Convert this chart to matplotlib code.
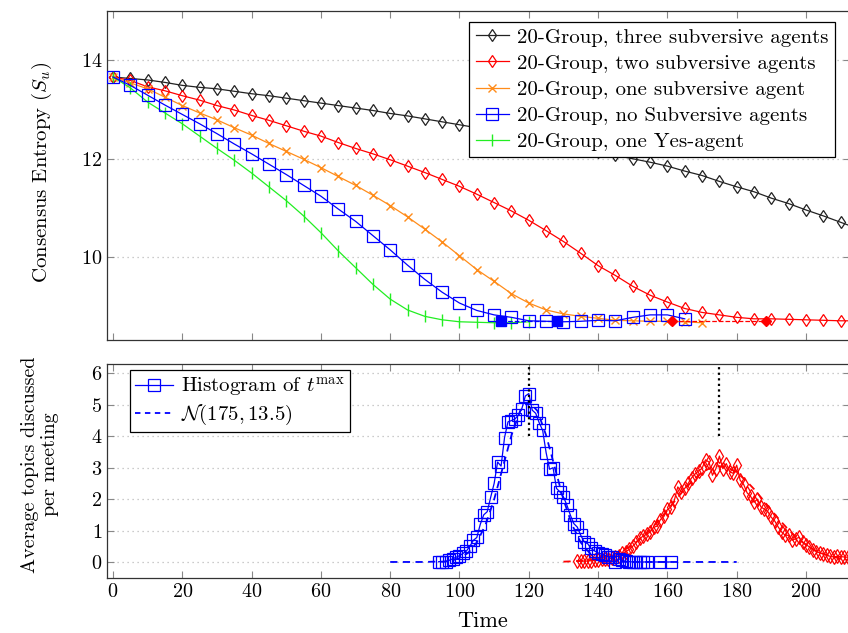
import matplotlib
matplotlib.use("Agg")
import matplotlib.pyplot as plt

plt.rcParams['font.family'] = 'serif'
plt.rcParams['font.serif'] = ['cmr10']
plt.rcParams['mathtext.fontset'] = 'cm'
plt.rcParams['axes.formatter.use_mathtext'] = True
plt.rcParams['font.size'] = 14

# ---- top panel: consensus entropy, sampled every 5 time units
t_black = list(range(0, 220, 5))
s_black = [13.66, 13.63, 13.60, 13.55, 13.49, 13.45, 13.42, 13.37, 13.32, 13.28,
           13.23, 13.18, 13.13, 13.08, 13.03, 12.98, 12.92, 12.87, 12.81, 12.75,
           12.69, 12.63, 12.56, 12.49, 12.42, 12.35, 12.28, 12.21, 12.14, 12.07,
           12.00, 11.93, 11.85, 11.75, 11.66, 11.54, 11.43, 11.33, 11.20, 11.09,
           10.96, 10.84, 10.71, 10.58]
t_red = list(range(0, 220, 5))
s_red = [13.66, 13.59, 13.46, 13.38, 13.28, 13.19, 13.08, 12.99, 12.88, 12.78,
         12.67, 12.56, 12.46, 12.33, 12.21, 12.10, 11.98, 11.85, 11.72, 11.58,
         11.44, 11.28, 11.11, 10.94, 10.75, 10.54, 10.32, 10.08, 9.83, 9.63,
         9.41, 9.23, 9.09, 8.96, 8.88, 8.83, 8.78, 8.75, 8.75, 8.74,
         8.73, 8.72, 8.71, 8.71]
t_orange = list(range(0, 175, 5))
s_orange = [13.66, 13.54, 13.42, 13.25, 13.08, 12.93, 12.79, 12.63, 12.48, 12.31,
            12.15, 11.99, 11.82, 11.64, 11.46, 11.26, 11.05, 10.82, 10.57, 10.31,
            10.03, 9.75, 9.51, 9.26, 9.07, 8.93, 8.85, 8.80, 8.76, 8.72,
            8.71, 8.70, 8.70, 8.69, 8.67]
t_blue = list(range(0, 170, 5))
s_blue = [13.66, 13.49, 13.29, 13.09, 12.90, 12.71, 12.51, 12.30, 12.10, 11.89,
          11.68, 11.46, 11.24, 10.98, 10.73, 10.44, 10.15, 9.84, 9.55, 9.29,
          9.07, 8.92, 8.83, 8.78, 8.71, 8.70, 8.69, 8.70, 8.72, 8.71,
          8.78, 8.83, 8.83, 8.75]
t_green = list(range(0, 125, 5))
s_green = [13.66, 13.44, 13.15, 12.93, 12.71, 12.46, 12.21, 11.97, 11.71, 11.43,
           11.15, 10.84, 10.50, 10.13, 9.79, 9.45, 9.15, 8.93, 8.80, 8.73,
           8.69, 8.68, 8.67, 8.67, 8.69]

# plateau ranges (filled markers + dashed line)
plateau_blue_t = [112, 128]
plateau_blue_s = [8.70, 8.70]
plateau_red_t = [161.4, 188.5]
plateau_red_s = [8.70, 8.70]

labels_top = ['20-Group, three subversive agents', '20-Group, two subversive agents',
              '20-Group, one subversive agent', '20-Group, no Subversive agents',
              '20-Group, one Yes-agent']

# ---- bottom panel: histograms of t^max
t_hist_blue = list(range(94, 155)) + [158, 161]
h_blue = [0.01, 0.01, 0.0, 0.05, 0.10, 0.15, 0.20, 0.27, 0.35, 0.50,
          0.69, 0.78, 1.20, 1.50, 1.60, 2.06, 2.50, 3.18, 3.05, 3.96,
          4.46, 4.50, 4.55, 4.67, 4.88, 5.28, 5.36, 4.83, 4.73, 4.43,
          4.19, 3.48, 2.95, 3.00, 2.34, 2.23, 2.07, 1.81, 1.49, 1.22,
          1.11, 0.85, 0.64, 0.58, 0.43, 0.35, 0.29, 0.25, 0.21, 0.16,
          0.16, 0.0, 0.10, 0.05, 0.02, 0.01, 0.0, 0.0, 0.0, 0.0,
          0.0, 0.0, 0.0]
t_fit_blue = [80, 85, 90, 92.5, 95, 97.5, 100, 102.5, 105, 107.5, 110, 112.5, 115, 117.5,
              120, 122.5, 125, 127.5, 130, 132.5, 135, 137.5, 140, 142.5, 145, 150,
              160, 170, 180]
n_blue = [0.0, 0.0, 0.0, 0.01, 0.01, 0.04, 0.12, 0.29, 0.62, 1.18, 1.99, 3.01, 4.03, 4.81,
          5.10, 4.81, 4.03, 3.01, 1.99, 1.18, 0.62, 0.29, 0.12, 0.04, 0.01, 0.0,
          0.0, 0.0, 0.0]

t_hist_red = list(range(134, 213))
h_red = [0.02, 0.02, 0.03, 0.03, 0.04, 0.05, 0.06, 0.08, 0.10, 0.09,
         0.12, 0.16, 0.20, 0.27, 0.33, 0.40, 0.50, 0.62, 0.75, 0.82,
         0.88, 0.95, 1.10, 1.14, 1.35, 1.45, 1.67, 1.75, 1.96, 2.39,
         2.23, 2.34, 2.50, 2.68, 2.80, 2.90, 2.98, 3.25, 3.18, 2.76,
         2.97, 3.37, 2.97, 3.13, 2.87, 2.82, 3.08, 2.60, 2.47, 2.20,
         2.09, 1.90, 2.00, 1.75, 1.68, 1.60, 1.42, 1.30, 1.11, 0.95,
         0.85, 0.85, 0.69, 0.74, 0.78, 0.62, 0.55, 0.48, 0.38, 0.33,
         0.29, 0.25, 0.21, 0.18, 0.16, 0.18, 0.17, 0.16, 0.15]
t_fit_red = [130, 132.5, 135, 137.5, 140, 142.5, 145, 147.5, 150, 152.5, 155, 157.5,
             160, 162.5, 165, 167.5, 170, 172.5, 175, 177.5, 180, 182.5, 185, 187.5,
             190, 192.5, 195, 197.5, 200, 202.5, 205, 207.5, 210, 212.5, 215]
n_red = [0.01, 0.02, 0.04, 0.06, 0.11, 0.17, 0.26, 0.38, 0.55, 0.76, 1.02, 1.32,
         1.65, 1.99, 2.32, 2.61, 2.85, 3.00, 3.05, 3.00, 2.85, 2.61, 2.32, 1.99,
         1.65, 1.32, 1.02, 0.76, 0.55, 0.38, 0.26, 0.17, 0.11, 0.06, 0.04]
t_peaks = [120, 175]

ORANGE = '#ff8c1a'
GREEN = '#22ee22'

fig = plt.figure(figsize=(8.48, 6.33), dpi=100)
ax1 = fig.add_axes([107/848, 1 - 340/633, 743/848, 329/633])
ax2 = fig.add_axes([107/848, 1 - 578/633, 743/848, 214/633])

lw = 0.9
ax1.plot(t_black, s_black, color='#222222', lw=lw, marker='d', ms=6, mfc='none',
         mew=0.9, label=labels_top[0], zorder=3)
ax1.plot(t_red, s_red, color='red', lw=lw, marker='d', ms=6, mfc='none',
         mew=0.9, label=labels_top[1], zorder=3)
ax1.plot(t_orange, s_orange, color=ORANGE, lw=lw, marker='x', ms=5.5,
         mew=1.0, label=labels_top[2], zorder=3)
ax1.plot(t_blue, s_blue, color='blue', lw=lw, marker='s', ms=8, mfc='none',
         mew=0.9, label=labels_top[3], zorder=4)
ax1.plot(t_green, s_green, color=GREEN, lw=lw, marker='|', ms=9,
         mew=1.0, label=labels_top[4], zorder=3)
ax1.plot(plateau_blue_t, plateau_blue_s, color='blue', ls='--', lw=lw,
         marker='s', ms=7, zorder=5)
ax1.plot(plateau_red_t, plateau_red_s, color='red', ls='--', lw=lw,
         marker='D', ms=5, zorder=5)

ax1.set_xlim(-1.73, 212.7)
ax1.set_ylim(8.32, 15.0)
ax1.set_yticks([10, 12, 14])
ax1.set_xticks(range(0, 220, 20))
ax1.set_xticklabels([])
ax1.set_ylabel('Consensus Entropy ($S_u$)', fontsize=15)
ax1.yaxis.set_label_coords(-0.072, 0.51)
ax1.yaxis.grid(True, color='#bbbbbb', ls=(0, (1, 3)), lw=0.9)
leg1 = ax1.legend(loc='upper right', bbox_to_anchor=(0.98, 0.967), borderaxespad=0,
                  fancybox=False, edgecolor='black', framealpha=1, numpoints=1,
                  handlelength=1.6, handletextpad=0.4, borderpad=0.3,
                  labelspacing=0.36, fontsize=15)
leg1.get_frame().set_linewidth(0.9)

ax2.plot(t_fit_blue, n_blue, color='blue', ls=(0, (4, 3)), lw=1.3, zorder=3)
ax2.plot(t_fit_red, n_red, color='red', ls=(0, (4, 3)), lw=1.3, zorder=3)
ax2.plot(t_hist_red, h_red, color='red', lw=lw, marker='d', ms=7.5, mfc='none',
         mew=0.9, zorder=4)
ax2.plot(t_hist_blue, h_blue, color='blue', lw=lw, marker='s', ms=8, mfc='none',
         mew=0.9, zorder=4)
ax2.vlines(t_peaks, 4, 6.3, colors='black', linestyles=(0, (1, 1.5)), lw=1.6, zorder=5)

# legend proxies
ax2.plot([], [], color='blue', lw=lw, marker='s', ms=8, mfc='none', mew=0.9,
         label='Histogram of $t^{\\max}$')
ax2.plot([], [], color='blue', ls=(0, (3, 2.5)), lw=1.3, label='$\\mathcal{N}(175, 13.5)$')

ax2.set_xlim(-1.73, 212.7)
ax2.set_ylim(-0.51, 6.3)
ax2.set_yticks(range(0, 7))
ax2.set_xticks(range(0, 220, 20))
ax2.set_xlabel('Time', fontsize=16)
ax2.xaxis.set_label_coords(0.506, -0.155)
ax2.set_ylabel('Average topics discussed\nper meeting', fontsize=14.5, linespacing=1.2)
ax2.yaxis.set_label_coords(-0.064, 0.53)
ax2.yaxis.grid(True, color='#bbbbbb', ls=(0, (1, 3)), lw=0.9)
leg2 = ax2.legend(loc='upper left', bbox_to_anchor=(0.031, 0.972), borderaxespad=0,
                  fancybox=False, edgecolor='black', framealpha=1, numpoints=1,
                  handlelength=1.8, handletextpad=0.4, borderpad=0.25,
                  labelspacing=0.2, fontsize=15)
leg2.get_frame().set_linewidth(0.9)

for ax in (ax1, ax2):
    ax.tick_params(direction='in', top=True, right=True, length=5, width=0.8,
                   color='#888888', labelsize=14.5)
    ax.set_axisbelow(True)
    for sp in ax.spines.values():
        sp.set_color('#333333')
        sp.set_linewidth(0.9)

fig.savefig('out.png', dpi=100)
